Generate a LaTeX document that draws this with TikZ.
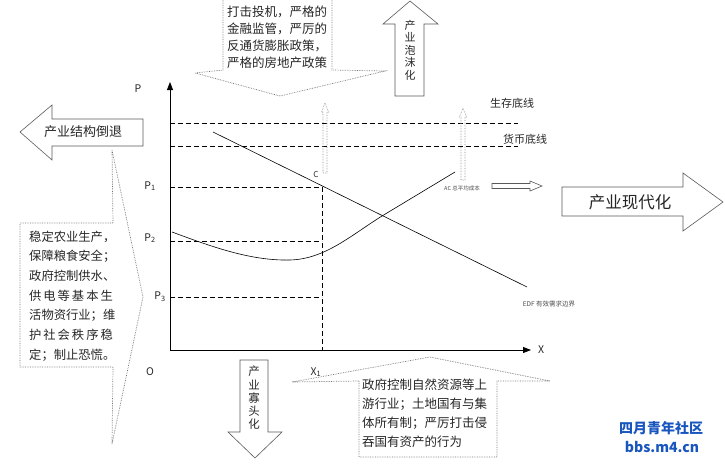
\documentclass[tikz,border=0pt]{standalone}
\usepackage{fontspec}
\setmainfont{Noto Sans CJK SC}
\usepackage{xcolor}
\usepackage{tikz}
\usetikzlibrary{arrows.meta}

\definecolor{wmblue}{RGB}{25,85,190}
\newcommand{\wideline}[1]{{\addfontfeature{LetterSpace=16}#1}}

\begin{document}
\begin{tikzpicture}[x=1pt, y=-1pt,
    every node/.style={inner sep=0pt, text=black!85},
    axis/.style={-{Triangle[length=8pt,width=6pt]}, line width=0.8pt},
    guide/.style={dash pattern=on 5pt off 3pt, line width=0.7pt},
    bigarrow/.style={draw=black!65, line width=0.6pt},
    calloutline/.style={draw=black!55, densely dotted, line width=0.7pt},
    upmark/.style={draw=black!45, densely dotted, line width=0.6pt},
    body/.style={font=\fontsize{12.5}{17}\selectfont, align=left},
    axlabel/.style={font=\fontsize{10.5}{12}\selectfont},
    smalltext/.style={font=\fontsize{5.5}{6}\selectfont, text=black!70},
    vertical/.style={font=\fontsize{11}{12.5}\selectfont, align=center}]
    \useasboundingbox (0,0) rectangle (725,464);

    % axes
    \coordinate (O) at (170,350);
    \coordinate (ytop) at (170,82);
    \coordinate (xend) at (531,350);
    \draw[axis] (O) -- (ytop);
    \draw[axis] (O) -- (xend);
    \node[axlabel] (p) at (138,89) {P};
    \node[axlabel] (x) at (541,350) {X};
    \node[axlabel] (o) at (150,372) {O};

    % price levels
    \node[axlabel] (p1) at (150,186) {P\textsubscript{1}};
    \node[axlabel] (p2) at (150,238) {P\textsubscript{2}};
    \node[axlabel] (p3) at (160,297) {P\textsubscript{3}};
    \node[axlabel] (x1) at (316,372) {X\textsubscript{1}};
    \draw[guide] (170,123) -- (518,123);
    \draw[guide] (170,146) -- (518,146);
    \draw[guide] (170,187) -- (322,187);
    \draw[guide] (170,241) -- (322,241);
    \draw[guide] (170,297) -- (322,297);
    \draw[guide] (322,187) -- (322,350);
    \node[font=\fontsize{11}{12}\selectfont] (survive) at (512,103) {生存底线};
    \node[font=\fontsize{11}{12}\selectfont] (money) at (525,139) {货币底线};

    % demand boundary and average cost
    \draw[line width=0.6pt] (213,132) -- (527,287);
    \draw[line width=0.6pt] (172,232) .. controls (210,246) and (250,261) .. (290,260)
        .. controls (325,259) and (350,236) .. (382,216) -- (455,172);
    \node[font=\fontsize{8}{9}\selectfont] (c) at (316,175) {C};
    \node[smalltext] (ac) at (462,188) {AC 总平均成本};
    \node[smalltext, font=\fontsize{6.5}{7}\selectfont] (edf) at (549,304) {EDF 有效需求边界};

    % small marks
    \draw[upmark] (325,103) -- (328.5,112) -- (327,112) -- (327,173) -- (323,173) -- (323,112) -- (321.5,112) -- cycle;
    \draw[upmark] (463,108) -- (466.5,117) -- (465,117) -- (465,180) -- (461,180) -- (461,117) -- (459.5,117) -- cycle;
    \draw[bigarrow] (492,183.5) -- (530,183.5) -- (530,181) -- (542,186) -- (530,191) -- (530,188.5) -- (492,188.5) -- cycle;

    % big arrows
    \draw[bigarrow] (20,132) -- (52,105) -- (52,119) -- (143,119) -- (143,146) -- (52,146) -- (52,160) -- cycle;
    \node[font=\fontsize{13}{14}\selectfont] (retreat) at (83,132) {产业结构倒退};
    \draw[bigarrow] (562,187) -- (683,187) -- (683,173) -- (723,202) -- (683,231) -- (683,216) -- (562,216) -- cycle;
    \node[font=\fontsize{16.5}{18}\selectfont] (modern) at (630,202) {产业现代化};
    \draw[bigarrow] (410,1) -- (438,24) -- (424,24) -- (424,96) -- (395,96) -- (395,24) -- (383,24) -- cycle;
    \node[vertical] (bubble) at (410,50) {产\\业\\泡\\沫\\化};
    \draw[bigarrow] (240,360) -- (268,360) -- (268,432) -- (282,432) -- (255,458) -- (228,432) -- (240,432) -- cycle;
    \node[vertical, font=\fontsize{11.5}{13.3}\selectfont] (oligo) at (254,398) {产\\业\\寡\\头\\化};

    % policy callouts
    \draw[calloutline] (223,0) -- (223,70) -- (195,73) -- (280,96) -- (385,71) -- (332,70) -- (332,0);
    \node[body, anchor=west] (tighten) at (227,37.5) {打击投机，严格的\\金融监管，严厉的\\反通货膨胀政策，\\严格的房地产政策};
    \draw[calloutline] (20,223) -- (113,223) -- (112,150) -- (143,297) -- (112,444) -- (113,367) -- (20,367) -- cycle;
    \node[body, anchor=west, font=\fontsize{12.3}{19.7}\selectfont] (stable) at (29,296)
        {稳定农业生产，\\保障粮食安全；\\政府控制供水、\\\wideline{供电等基本生}\\活物资行业；维\\\wideline{护社会秩序稳}\\定；制止恐慌。};
    \draw[calloutline] (359,381) -- (292,382) -- (430,357) -- (550,381) -- (497,381) -- (497,457) -- (359,457) -- cycle;
    \node[body, anchor=west, font=\fontsize{12.5}{19}\selectfont] (resource) at (362,413.5)
        {政府控制自然资源等上\\游行业；土地国有与集\\体所有制；严厉打击侵\\吞国有资产的行为};

    % watermark
    \node[font=\bfseries\fontsize{14}{15}\selectfont, text=wmblue] (wmname) at (661,428) {四月青年社区};
    \node[font=\bfseries\fontsize{14}{15}\selectfont, text=wmblue] (wmsite) at (662,447) {bbs.m4.cn};
\end{tikzpicture}
\end{document}
